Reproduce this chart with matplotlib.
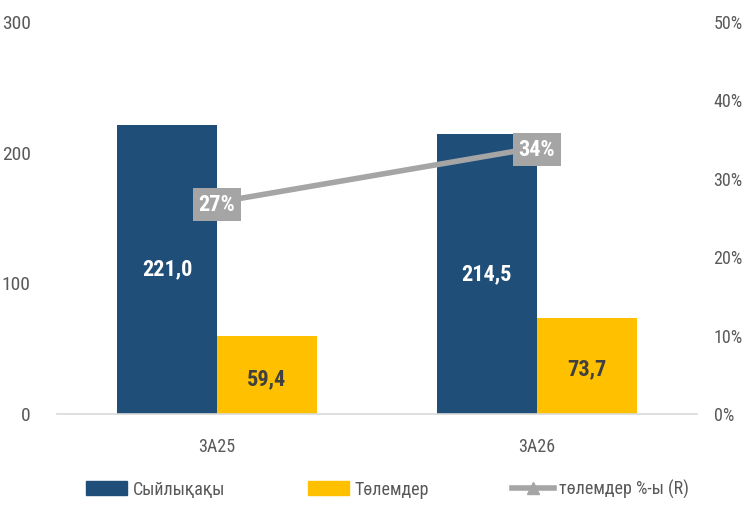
import numpy as np
import matplotlib.pyplot as plt
from matplotlib.lines import Line2D
from matplotlib.patches import Patch

plt.rcParams['font.family'] = ['Roboto Condensed', 'DejaVu Sans']

categories = ['3А25', '3А26']
premiums = [221.0, 214.5]
payments = [59.4, 73.7]
ratio = [27, 34]
series_names = ['Сыйлықақы', 'Төлемдер', 'төлемдер %-ы (R)']

blue = '#1F4E79'
yellow = '#FFC000'
grey = '#A5A5A5'
txt = '#595959'

fig = plt.figure(figsize=(7.45, 5.09), dpi=100)
ax = fig.add_axes([0.0765, 0.1866, 0.859, 0.770])
ax2 = ax.twinx()

x = np.arange(len(categories))
w = 0.3125
b1 = ax.bar(x - w/2, premiums, w, color=blue, zorder=2)
b2 = ax.bar(x + w/2, payments, w, color=yellow, zorder=2)

for r, v in zip(b1, premiums):
    ax.text(r.get_x() + r.get_width()/2, v/2, f'{v:.1f}'.replace('.', ','),
            ha='center', va='center', color='white', fontsize=16, fontweight='bold')
for r, v in zip(b2, payments):
    ax.text(r.get_x() + r.get_width()/2, v/2 - 3, f'{v:.1f}'.replace('.', ','),
            ha='center', va='center', color='#404040', fontsize=16, fontweight='bold')

ax2.plot(x, ratio, color=grey, lw=4, marker='^', ms=9, zorder=3)
for xi, v in zip(x, ratio):
    ax2.text(xi, v - 0.3, f'{v}%', ha='center', va='center', color='white',
             fontsize=16, fontweight='bold',
             bbox=dict(boxstyle='square,pad=0.25', fc=grey, ec='none'), zorder=4)

ax.set_xlim(-0.5, 1.5)
ax.set_ylim(0, 300)
ax2.set_ylim(0, 50)
ax.set_yticks([0, 100, 200, 300])
ax2.set_yticks(range(0, 51, 10))
ax2.set_yticklabels([f'{t}%' for t in range(0, 51, 10)])
ax.set_xticks(x)
ax.set_xticklabels(categories)

for a in (ax, ax2):
    for s in a.spines.values():
        s.set_visible(False)
    a.tick_params(length=0, labelsize=14, colors=txt)
ax.spines['bottom'].set_visible(True)
ax.spines['bottom'].set_color('#D9D9D9')
ax.spines['bottom'].set_linewidth(1.2)
ax.tick_params(axis='y', pad=19)
ax.tick_params(axis='x', pad=17, labelsize=13)
ax2.tick_params(axis='y', pad=12, labelsize=13)

handles = [Patch(color=blue), Patch(color=yellow),
           Line2D([], [], color=grey, lw=4, marker='^', ms=8)]
fig.legend(handles, series_names, loc='lower center', bbox_to_anchor=(0.52, -0.012),
           ncol=3, frameon=False, fontsize=13, labelcolor=txt,
           handlelength=2.3, handleheight=0.8, columnspacing=4.6, handletextpad=0.3)

fig.savefig('out.png', dpi=100)
